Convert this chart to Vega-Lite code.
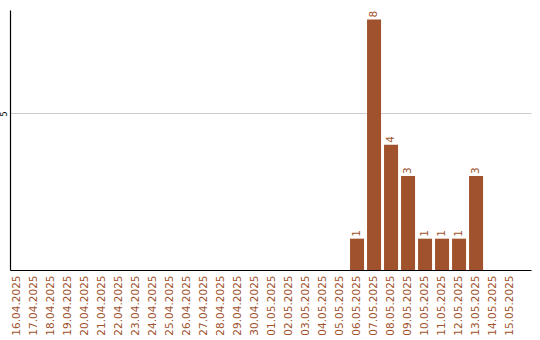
{
  "$schema": "https://vega.github.io/schema/vega-lite/v6.json",
  "autosize": "none",
  "padding": {"left": 10, "top": 10, "right": 9, "bottom": 70},
  "width": 521,
  "height": 260,
  "background": "white",
  "config": {"view": {"stroke": null}, "font": "DejaVu Sans"},
  "data": {"values": [
    {"date": "16.04.2025", "n": 0}, {"date": "17.04.2025", "n": 0}, {"date": "18.04.2025", "n": 0},
    {"date": "19.04.2025", "n": 0}, {"date": "20.04.2025", "n": 0}, {"date": "21.04.2025", "n": 0},
    {"date": "22.04.2025", "n": 0}, {"date": "23.04.2025", "n": 0}, {"date": "24.04.2025", "n": 0},
    {"date": "25.04.2025", "n": 0}, {"date": "26.04.2025", "n": 0}, {"date": "27.04.2025", "n": 0},
    {"date": "28.04.2025", "n": 0}, {"date": "29.04.2025", "n": 0}, {"date": "30.04.2025", "n": 0},
    {"date": "01.05.2025", "n": 0}, {"date": "02.05.2025", "n": 0}, {"date": "03.05.2025", "n": 0},
    {"date": "04.05.2025", "n": 0}, {"date": "05.05.2025", "n": 0}, {"date": "06.05.2025", "n": 1},
    {"date": "07.05.2025", "n": 8}, {"date": "08.05.2025", "n": 4}, {"date": "09.05.2025", "n": 3},
    {"date": "10.05.2025", "n": 1}, {"date": "11.05.2025", "n": 1}, {"date": "12.05.2025", "n": 1},
    {"date": "13.05.2025", "n": 3}, {"date": "14.05.2025", "n": 0}, {"date": "15.05.2025", "n": 0}
  ]},
  "encoding": {
    "x": {
      "field": "date", "type": "ordinal", "sort": null, "title": null,
      "scale": {"paddingInner": 0.176, "paddingOuter": 0.41, "align": 0},
      "axis": {
        "labelAngle": -90, "labelColor": "#A0522D", "labelFontSize": 10.5,
        "labelPadding": 5, "ticks": false, "domainColor": "black", "domainWidth": 1.2,
        "labelAlign": "right", "labelBaseline": "middle"
      }
    },
    "y": {
      "field": "n", "type": "quantitative", "title": null,
      "scale": {"domain": [0, 8.3], "nice": false},
      "axis": {
        "values": [5], "ticks": false, "labelAngle": -90, "labelFontSize": 8,
        "labelColor": "black", "labelPadding": 2, "domainColor": "black", "domainWidth": 1.2,
        "gridColor": "#cccccc", "grid": true
      }
    }
  },
  "layer": [
    {"mark": {"type": "bar", "color": "#A0522D"}},
    {
      "transform": [{"filter": "datum.n > 0"}],
      "mark": {"type": "text", "angle": -90, "align": "left", "baseline": "middle", "dx": 2, "fontSize": 10.5, "color": "#A0522D"},
      "encoding": {"text": {"field": "n", "type": "quantitative"}}
    }
  ]
}
